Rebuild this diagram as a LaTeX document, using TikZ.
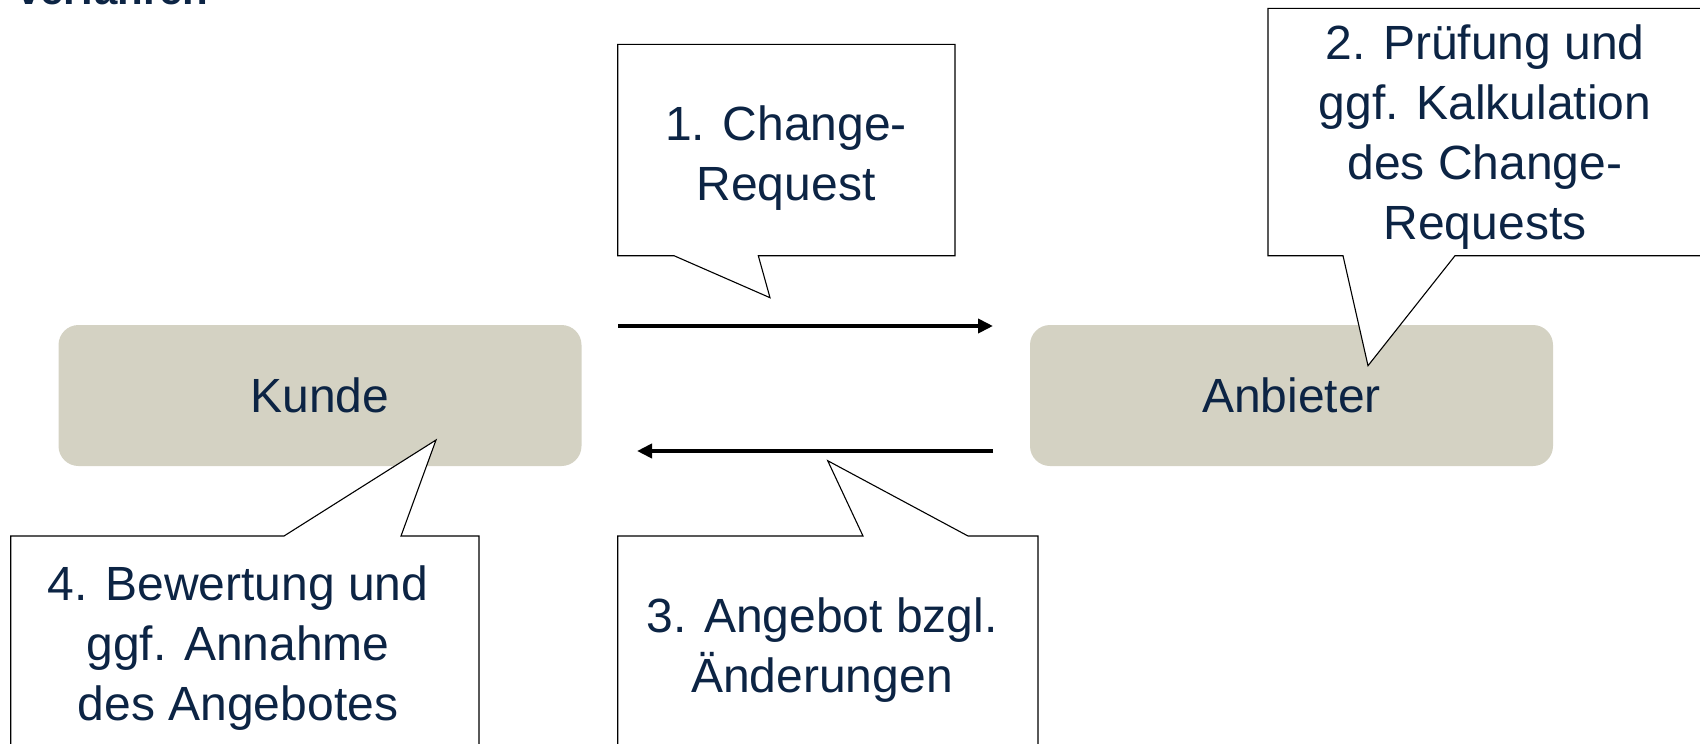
\documentclass[tikz,border=0pt]{standalone}
\usepackage{fontspec}
\setmainfont{Liberation Sans}
\usetikzlibrary{arrows.meta}
\definecolor{navy}{HTML}{0C2444}
\definecolor{boxfill}{HTML}{D4D2C3}
\tikzset{
  party/.style={fill=boxfill, rounded corners=20pt, minimum width=523pt,
    minimum height=141pt, text=navy, font=\fontsize{48}{58}\selectfont},
  callout/.style={draw=black, fill=white, line width=1.1pt, line join=miter},
  calltext/.style={text=navy, align=center, font=\fontsize{48}{60}\selectfont},
  flow/.style={line width=4pt, -{Triangle[length=15pt,width=14pt]}}
}
\begin{document}
\begin{tikzpicture}[x=1pt,y=-1pt]
\useasboundingbox (0,0) rectangle (1700,744);
\clip (0,0) rectangle (1700,744);

% heading, only its lower edge shows at the top border
\node[anchor=base west, inner sep=0, text=navy,
  font=\fontsize{42}{48}\selectfont\bfseries] (title) at (17,5) {verfahren};

% the two parties
\node[party] (kunde) at (320,395.5) {Kunde};
\node[party] (anbieter) at (1291.5,395.5) {Anbieter};

% message flow
\coordinate (reqS) at (618,326);
\coordinate (reqE) at (993,326);
\coordinate (offS) at (993,451);
\coordinate (offE) at (637,451);
\draw[flow] (reqS) -- (reqE);
\draw[flow] (offS) -- (offE);

% callout 1: change request
\coordinate (t1) at (770,297.7);
\draw[callout] (617.7,44.3) -- (955,44.3) -- (955,255.7) -- (758.3,255.7)
  -- (t1) -- (674,255.7) -- (617.7,255.7) -- cycle;
\node[calltext] (c1) at (786,158) {1. Change-\\Request};

% callout 2: check and calculation
\coordinate (t2) at (1368,365.7);
\draw[callout] (1268,8.3) -- (1710,8.3) -- (1710,255.7) -- (1455,255.7)
  -- (t2) -- (1343,255.7) -- (1268,255.7) -- cycle;
\node[calltext] (c2) at (1485,137) {2. Prüfung und\\ggf. Kalkulation\\des Change-\\Requests};

% callout 3: offer
\coordinate (t3) at (827.7,460.7);
\draw[callout] (617.7,760) -- (617.7,536) -- (863,536) -- (t3) -- (968,536)
  -- (1038,536) -- (1038,760);
\node[calltext] (c3) at (822,650) {3. Angebot bzgl.\\Änderungen};

% callout 4: evaluation
\coordinate (t4) at (436,440);
\draw[callout] (10.7,760) -- (10.7,536) -- (284,536) -- (t4) -- (401,536)
  -- (479,536) -- (479,760);
\node[calltext] (c4) at (238,648) {4. Bewertung und\\ggf. Annahme\\des Angebotes};
\end{tikzpicture}
\end{document}
